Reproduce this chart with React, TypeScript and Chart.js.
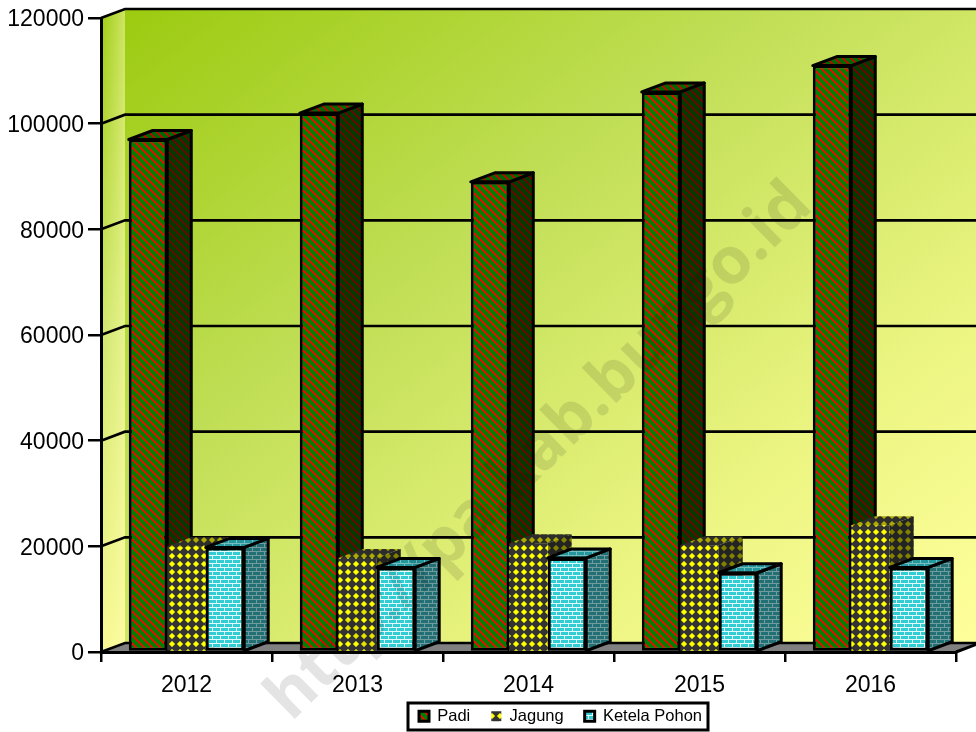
import React, { useEffect, useRef } from "react";
import { Chart, registerables } from "chart.js";

Chart.register(...registerables);

const years = ["2012", "2013", "2014", "2015", "2016"];
const padi = [97000, 102000, 89000, 106000, 111000];
const jagung = [20000, 17800, 20600, 20200, 24000];
const ketela = [19800, 16000, 17800, 15000, 16000];
const watermark = "http://pa.kab.bungo.id";

const DX = 24;
const DY = 9;
const FONT = '"Liberation Sans", Arial, sans-serif';

type RGB = [number, number, number];

const mix = (a: RGB, b: RGB, t: number): RGB => [
  Math.round(a[0] * t + b[0] * (1 - t)),
  Math.round(a[1] * t + b[1] * (1 - t)),
  Math.round(a[2] * t + b[2] * (1 - t)),
];

function makePattern(size: number, pick: (x: number, y: number) => RGB): CanvasPattern {
  const c = document.createElement("canvas");
  c.width = size;
  c.height = size;
  const ctx = c.getContext("2d")!;
  const img = ctx.createImageData(size, size);
  for (let y = 0; y < size; y++) {
    for (let x = 0; x < size; x++) {
      const [r, g, b] = pick(x, y);
      const i = (y * size + x) * 4;
      img.data[i] = r;
      img.data[i + 1] = g;
      img.data[i + 2] = b;
      img.data[i + 3] = 255;
    }
  }
  ctx.putImageData(img, 0, 0);
  return ctx.createPattern(c, "repeat")!;
}

const stripes = (a: RGB, b: RGB) =>
  makePattern(8, (x, y) => {
    const k = (x - y + 16) % 8;
    return k < 2 ? a : k === 2 ? mix(a, b, 0.5) : b;
  });

const dots = (a: RGB, b: RGB) =>
  makePattern(8, (x, y) => {
    const d = Math.abs(x - 3.5) + Math.abs(y - 3.5);
    return d < 3 ? a : d === 3 ? mix(a, b, 0.6) : b;
  });

const bricks = (brick: RGB, mortar: RGB) =>
  makePattern(8, (x, y) => {
    if (y % 4 === 3) return mortar;
    if (y < 3) return x === 0 ? mortar : brick;
    return x === 4 ? mortar : brick;
  });

export default function App() {
  const ref = useRef<HTMLCanvasElement>(null);

  useEffect(() => {
    const styles = [
      {
        front: stripes([255, 0, 0], [0, 128, 0]),
        top: stripes([200, 0, 0], [0, 105, 0]),
        side: stripes([115, 0, 0], [0, 60, 0]),
        outline: true,
      },
      {
        front: dots([255, 255, 0], [51, 51, 51]),
        top: dots([170, 170, 0], [45, 45, 45]),
        side: dots([130, 130, 0], [35, 35, 35]),
        outline: false,
      },
      {
        front: bricks([50, 205, 212], [225, 252, 252]),
        top: bricks([35, 150, 158], [120, 190, 190]),
        side: bricks([32, 112, 118], [115, 155, 155]),
        outline: true,
      },
    ];

    const sketch3d = {
      id: "sketch3d",
      afterLayout(chart: any) {
        const lg = chart.legend;
        lg.left = 361;
        lg.right = 760;
        lg.width = 399;
        lg.top = 687;
        lg.bottom = 732;
        chart.scales.x.bottom = 702;
      },
      beforeDraw(chart: any) {
        const { ctx, chartArea: a, scales } = chart;
        const y = scales.y;
        ctx.save();
        ctx.fillStyle = "#ffffff";
        ctx.fillRect(0, 0, chart.width, chart.height);

        const wallX = a.left + DX;
        const right = a.right + DX;
        const top = a.top - DY;
        const floor = a.bottom - DY;

        // back wall: corner-to-corner gradient
        const W = right - wallX;
        const H = floor - top;
        const k = 2 / (1 / (W * W) + 1 / (H * H));
        const g = ctx.createLinearGradient(wallX, top, wallX + k / W, top + k / H);
        g.addColorStop(0, "rgb(156,203,16)");
        g.addColorStop(0.37, "rgb(192,222,85)");
        g.addColorStop(0.74, "rgb(236,245,130)");
        g.addColorStop(1, "rgb(255,255,156)");
        ctx.fillStyle = g;
        ctx.fillRect(wallX, top, W, H);

        // side wall
        ctx.beginPath();
        ctx.moveTo(a.left, a.top);
        ctx.lineTo(wallX, top);
        ctx.lineTo(wallX, floor);
        ctx.lineTo(a.left, a.bottom);
        ctx.closePath();
        const gv = ctx.createLinearGradient(0, top, 0, a.bottom);
        gv.addColorStop(0, "#9ccb10");
        gv.addColorStop(0.5, "#cfe66a");
        gv.addColorStop(1, "#f8f890");
        ctx.fillStyle = gv;
        ctx.fill();
        const gh = ctx.createLinearGradient(a.left, 0, wallX, 0);
        gh.addColorStop(0, "rgba(255,255,180,0)");
        gh.addColorStop(1, "rgba(255,255,180,0.5)");
        ctx.fillStyle = gh;
        ctx.fill();

        // floor
        ctx.beginPath();
        ctx.moveTo(a.left, a.bottom);
        ctx.lineTo(wallX, floor);
        ctx.lineTo(right, floor);
        ctx.lineTo(a.right, a.bottom);
        ctx.closePath();
        ctx.fillStyle = "#808080";
        ctx.fill();

        // grid on the walls
        ctx.strokeStyle = "#000";
        ctx.lineWidth = 2.6;
        ctx.beginPath();
        for (const t of y.ticks) {
          const py = y.getPixelForValue(t.value);
          ctx.moveTo(a.left, py);
          ctx.lineTo(wallX, py - DY);
          ctx.lineTo(chart.width + 30, py - DY);
        }
        ctx.stroke();
        ctx.lineWidth = 3;
        ctx.beginPath();
        ctx.moveTo(a.right, a.bottom);
        ctx.lineTo(right, floor);
        ctx.stroke();

        // legend frame
        ctx.fillStyle = "#fff";
        ctx.fillRect(408, 703, 300, 27);
        ctx.lineWidth = 3;
        ctx.strokeRect(408, 703, 300, 27);
        ctx.restore();
      },
      beforeDatasetsDraw(chart: any) {
        const { ctx } = chart;
        chart.data.datasets.forEach((_: any, i: number) => {
          const meta = chart.getDatasetMeta(i);
          const st = styles[i];
          meta.data.forEach((bar: any) => {
            const { x, y, base, width } = bar.getProps(["x", "y", "base", "width"], true);
            const l = x - width / 2;
            const r = x + width / 2;
            ctx.save();
            ctx.lineJoin = "round";
            ctx.strokeStyle = "#000";
            ctx.lineWidth = 3;
            // side face
            ctx.beginPath();
            ctx.moveTo(r, y);
            ctx.lineTo(r + DX, y - DY);
            ctx.lineTo(r + DX, base - DY);
            ctx.lineTo(r, base);
            ctx.closePath();
            ctx.fillStyle = st.side;
            ctx.fill();
            if (st.outline) ctx.stroke();
            // top face
            ctx.beginPath();
            ctx.moveTo(l, y);
            ctx.lineTo(l + DX, y - DY);
            ctx.lineTo(r + DX, y - DY);
            ctx.lineTo(r, y);
            ctx.closePath();
            ctx.fillStyle = st.top;
            ctx.fill();
            if (st.outline) ctx.stroke();
            ctx.restore();
            bar.draw(ctx);
          });
        });
        return false;
      },
      afterDraw(chart: any) {
        const { ctx } = chart;
        ctx.save();
        ctx.globalCompositeOperation = "multiply";
        ctx.translate(540, 452);
        ctx.rotate((-44.5 * Math.PI) / 180);
        ctx.font = 'bold 65px "Open Sans", sans-serif';
        ctx.textAlign = "center";
        ctx.textBaseline = "middle";
        ctx.fillStyle = "#e4e4e4";
        ctx.fillText(watermark, 0, 0);
        ctx.restore();
      },
    };

    const chart = new Chart(ref.current!, {
      type: "bar",
      data: {
        labels: years,
        datasets: [
          { label: "Padi", data: padi, backgroundColor: styles[0].front, borderColor: "#000", borderWidth: 3, borderSkipped: false },
          { label: "Jagung", data: jagung, backgroundColor: styles[1].front, borderWidth: 0 },
          { label: "Ketela Pohon", data: ketela, backgroundColor: styles[2].front, borderColor: "#000", borderWidth: 3, borderSkipped: false },
        ],
      },
      options: {
        responsive: false,
        animation: false,
        layout: { autoPadding: false, padding: { top: 18, right: 20, left: 0, bottom: 0 } },
        datasets: { bar: { categoryPercentage: 0.675, barPercentage: 1 } },
        plugins: {
          tooltip: { enabled: false },
          title: { display: false },
          legend: {
            position: "bottom",
            labels: {
              color: "#000",
              boxWidth: 10,
              boxHeight: 10,
              padding: 21,
              font: { family: FONT, size: 16.5 },
            },
          },
        },
        scales: {
          x: {
            afterFit: (s: any) => {
              s.height = 732 - 652 - s.chart.legend.height;
            },
            grid: { drawOnChartArea: false, color: "#000", lineWidth: 2.5, tickLength: 10 },
            border: { display: true, color: "#000", width: 3 },
            ticks: { color: "#000", padding: 10, maxRotation: 0, font: { family: FONT, size: 23 } },
          },
          y: {
            min: 0,
            max: 120000,
            afterFit: (s: any) => {
              s.width = 101;
            },
            grid: { drawOnChartArea: false, color: "#000", lineWidth: 2.5, tickLength: 13 },
            border: { display: true, color: "#000", width: 3 },
            ticks: { color: "#000", stepSize: 20000, padding: 4, labelOffset: 2, font: { family: FONT, size: 23 }, callback: (v: any) => String(v) },
          },
        },
      } as any,
      plugins: [sketch3d as any],
    });
    return () => chart.destroy();
  }, []);

  return (
    <div style={{ position: "absolute", left: 0, top: 0, width: 976, height: 732, overflow: "hidden" }}>
      <canvas ref={ref} width={976} height={732} style={{ display: "block" }} />
    </div>
  );
}
